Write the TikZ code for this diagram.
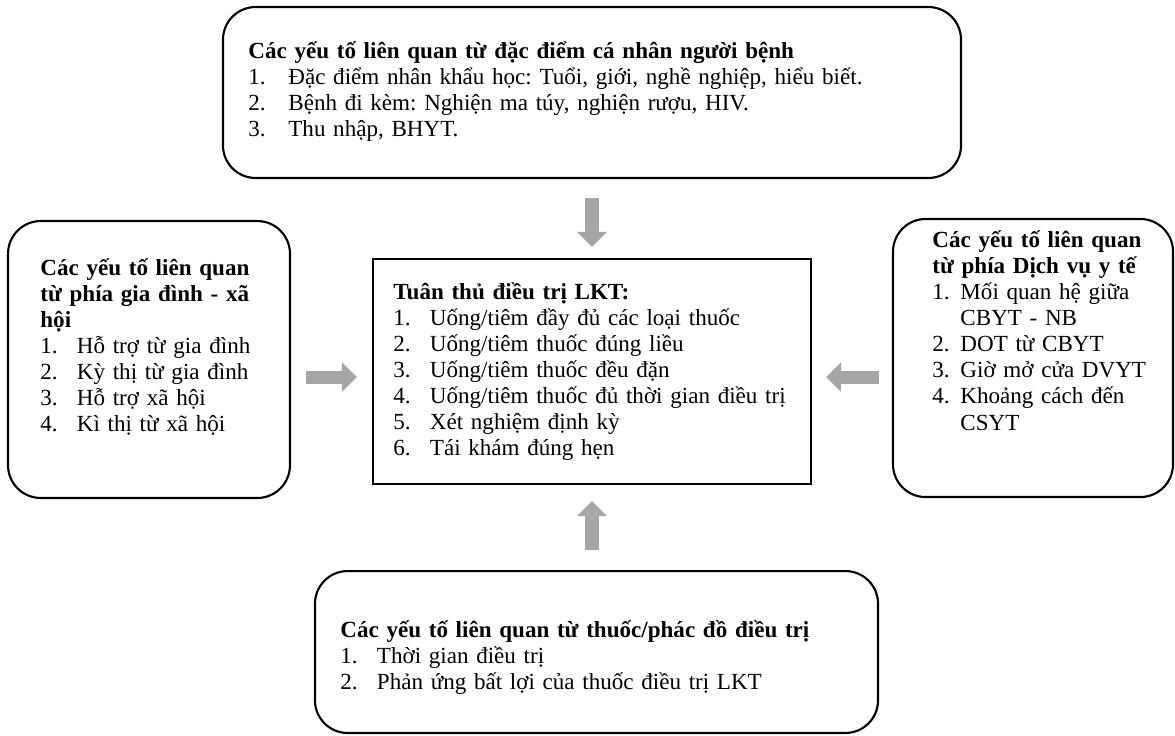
\documentclass[tikz,border=0pt]{standalone}
\usepackage{fontspec}
\setmainfont{Liberation Serif}
\usetikzlibrary{arrows.meta}

\definecolor{arrowgray}{HTML}{A6A6A6}
\newcommand{\itm}[3][19pt]{\makebox[#1][l]{#2.}#3}

\begin{document}
\begin{tikzpicture}
[
  x=0.52pt, y=-0.52pt,
  frame/.style = {draw, line width=1.1pt, rounded corners=17pt, inner sep=0pt},
  core/.style = {draw, line width=1.1pt, inner sep=0pt},
  entry/.style = {anchor=base west, align=left, inner sep=0pt, font=\fontsize{12pt}{13.6pt}\selectfont\frenchspacing},
  feed/.style = {arrowgray, line width=6.8pt, -{Triangle[width=15pt,length=7.8pt]}},
]
\useasboundingbox (0,0) rectangle (1175,735);

% boxes
\node (person) at (592,92.5) [frame, minimum width=383.8pt, minimum height=88.9pt] {};
\node (family) at (149,359.5) [frame, minimum width=146.6pt, minimum height=144pt] {};
\node (core) at (592,371.5) [core, minimum width=227.8pt, minimum height=117pt] {};
\node (service) at (1033,358) [frame, minimum width=145.6pt, minimum height=144.6pt] {};
\node (drug) at (596.5,652) [frame, minimum width=292.8pt, minimum height=84.2pt] {};

% texts
\node (person-txt) at (248,58) [entry, text width=380pt] {%
  \textbf{Các yếu tố liên quan từ đặc điểm cá nhân người bệnh}\\
  \itm[20.8pt]{1}{Đặc điểm nhân khẩu học: Tuổi, giới, nghề nghiệp, hiểu biết.}\\
  \itm[20.8pt]{2}{Bệnh đi kèm: Nghiện ma túy, nghiện rượu, HIV.}\\
  \itm[20.8pt]{3}{Thu nhập, BHYT.}};
\node (family-txt) at (40,275) [entry, text width=125pt] {%
  \textbf{Các yếu tố liên quan}\\
  \makebox[114.4pt][s]{\bfseries từ phía gia đình - xã}\\
  \textbf{hội}\\
  \itm{1}{Hỗ trợ từ gia đình}\\
  \itm{2}{Kỳ thị từ gia đình}\\
  \itm{3}{Hỗ trợ xã hội}\\
  \itm{4}{Kì thị từ xã hội}};
\node (core-txt) at (393,299) [entry, text width=210pt] {%
  \textbf{Tuân thủ điều trị LKT:}\\
  \itm{1}{Uống/tiêm đầy đủ các loại thuốc}\\
  \itm{2}{Uống/tiêm thuốc đúng liều}\\
  \itm{3}{Uống/tiêm thuốc đều đặn}\\
  \itm{4}{Uống/tiêm thuốc đủ thời gian điều trị}\\
  \itm{5}{Xét nghiệm định kỳ}\\
  \itm{6}{Tái khám đúng hẹn}};
\node (service-txt) at (932,247) [entry, text width=125pt] {%
  \textbf{Các yếu tố liên quan}\\
  \textbf{từ phía Dịch vụ y tế}\\
  \itm[14.6pt]{1}{\makebox[105.6pt][s]{Mối quan hệ giữa}}\\
  \hspace*{14.6pt}CBYT - NB\\
  \itm[14.6pt]{2}{DOT từ CBYT}\\
  \itm[14.6pt]{3}{Giờ mở cửa DVYT}\\
  \itm[14.6pt]{4}{\makebox[105.6pt][s]{Khoảng cách đến}}\\
  \hspace*{14.6pt}CSYT};
\node (drug-txt) at (340,637) [entry, text width=290pt] {%
  \textbf{Các yếu tố liên quan từ thuốc/phác đồ điều trị}\\
  \itm{1}{Thời gian điều trị}\\
  \itm{2}{Phản ứng bất lợi của thuốc điều trị LKT}};

% arrows
\coordinate (in-l) at ([yshift=-2.9pt]core.west);
\coordinate (in-r) at ([yshift=-2.9pt]core.east);
\draw[feed, shorten <=9.9pt, shorten >=5.7pt] (person.south) -- (core.north);
\draw[feed, shorten <=10.4pt, shorten >=8.3pt] (drug.north -| core.south) -- (core.south);
\draw[feed, shorten <=7.8pt, shorten >=7.8pt] (family.east |- in-l) -- (in-l);
\draw[feed, shorten <=6.8pt, shorten >=7.3pt] (service.west |- in-r) -- (in-r);

\end{tikzpicture}
\end{document}
